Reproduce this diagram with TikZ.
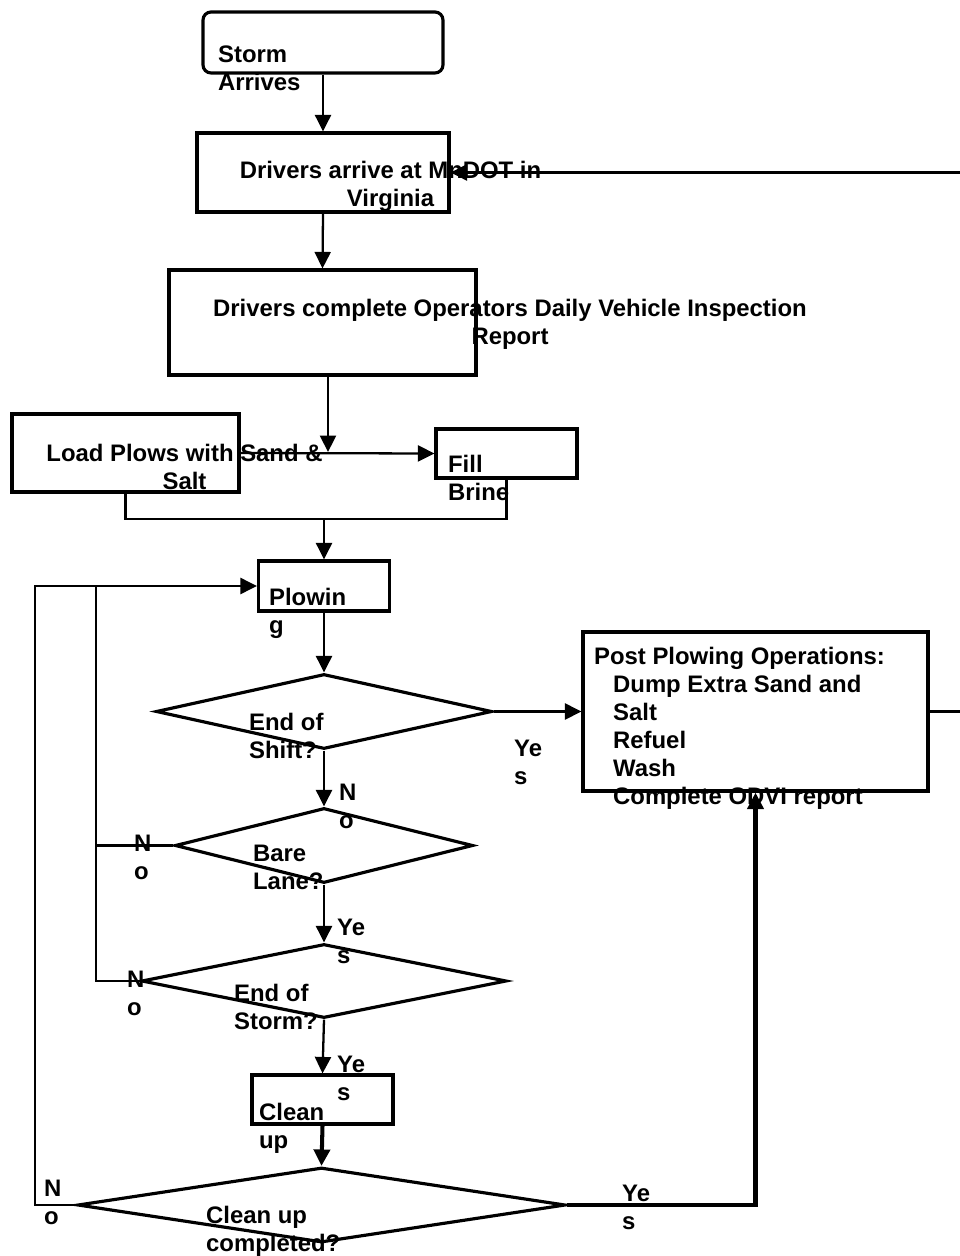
\documentclass[tikz,border=0pt]{standalone}
\usepackage{fontspec}
\setmainfont{Liberation Sans}
\usetikzlibrary{arrows.meta,shapes.geometric}
\tikzset{every picture/.style={line width=1.3pt}}
\tikzset{
  box/.style={draw, rectangle, line width=1.8pt, inner sep=0pt},
  decide/.style={draw, diamond, line width=1.8pt, inner sep=0pt},
  txt/.style={font=\fontsize{13.6}{15.9}\selectfont\bfseries, inner sep=0pt, align=left, anchor=north west},
  heavy/.style={line width=2.3pt},
}
\newcommand{\postind}{\hspace*{0.38cm}}

\begin{document}
\begin{tikzpicture}[>={Triangle[length=0.33cm,width=0.32cm]}, x=0.02cm, y=-0.02cm]
    \useasboundingbox (0,0) rectangle (959,1256);
    % process boxes
    \node[box, rounded corners=0.16cm, minimum width=4.8cm, minimum height=1.22cm] (storm) at (323,42.5) {};
    \node[box, minimum width=5.04cm, minimum height=1.58cm] (arrive) at (323,172.5) {};
    \node[box, minimum width=6.14cm, minimum height=2.1cm] (inspect) at (322.5,322.5) {};
    \node[box, minimum width=4.54cm, minimum height=1.56cm] (load) at (125.5,453) {};
    \node[box, minimum width=2.82cm, minimum height=0.98cm] (brine) at (506.5,453.5) {};
    \node[box, minimum width=2.62cm, minimum height=1.0cm] (plow) at (324,586) {};
    \node[box, minimum width=2.82cm, minimum height=0.98cm] (clean) at (322.5,1099.5) {};
    \node[box, minimum width=6.9cm, minimum height=3.18cm] (post) at (755.5,711.5) {};
    % decisions
    \node[decide, minimum width=6.72cm, minimum height=1.5cm] (shift) at (324,711.5) {};
    \node[decide, minimum width=5.96cm, minimum height=1.5cm] (bare) at (324,845.5) {};
    \node[decide, minimum width=7.3cm, minimum height=1.48cm] (endstorm) at (324,981) {};
    \node[decide, minimum width=9.76cm, minimum height=1.5cm] (done) at (321.5,1205) {};
    % texts, placed as the original prints them
    \node[txt] (stormtxt) at (217,45) {Storm\\Arrives};
    \node[txt, align=center, anchor=north] (arrivetxt) at (390.5,160) {Drivers arrive at MnDOT in\\Virginia};
    \node[txt, align=center, anchor=north] (inspecttxt) at (510,298) {Drivers complete Operators Daily Vehicle Inspection\\Report};
    \node[txt, align=center, anchor=north] (loadtxt) at (184.5,443) {Load Plows with Sand \&\\Salt};
    \node[txt] (brinetxt) at (447,454) {Fill\\Brine};
    \node[txt] (plowtxt) at (268,587) {Plowin\\g};
    \node[txt] (shifttxt) at (248,712) {End of\\Shift?};
    \node[txt] (baretxt) at (252,844) {Bare\\Lane?};
    \node[txt] (endstormtxt) at (233,983) {End of\\Storm?};
    \node[txt] (cleantxt) at (258,1102) {Clean\\up};
    \node[txt] (donetxt) at (205,1205) {Clean up\\completed?};
    \node[txt] (posttxt) at (593,646) {Post Plowing Operations:\\\postind Dump Extra Sand and\\\postind Salt\\\postind Refuel\\\postind Wash\\\postind Complete ODVI report};
    % branch labels
    \node[txt] (yesshift) at (513,739) {Ye\\s};
    \node[txt] (noshift) at (338,783) {N\\o};
    \node[txt] (nobare) at (133,834) {N\\o};
    \node[txt] (yesbare) at (336,918) {Ye\\s};
    \node[txt] (noend) at (126,970) {N\\o};
    \node[txt] (yesend) at (336,1055) {Ye\\s};
    \node[txt] (nodone) at (43,1179) {N\\o};
    \node[txt] (yesdone) at (621,1184) {Ye\\s};
    % helper points
    \coordinate (split) at (328,452);
    \coordinate (join) at (324,519);
    \coordinate (loopin) at (96,586);
    \coordinate (loopout) at (35,586);
    % main line
    \draw[->] (storm.south) -- (arrive.north);
    \draw[->] (arrive.south) -- (inspect.north);
    \draw[->] (inspect.south -| split) -- (split);
    \draw[->] (load.east) -- (brine.west);
    \draw (load.south) |- (join) -| (brine.south);
    \draw[->] (join) -- (plow.north);
    \draw[->] (plow.south) -- (shift.north);
    \draw[->] (shift.south) -- (bare.north);
    \draw[->] (bare.south) -- (endstorm.north);
    \draw[->] (endstorm.south) -- (clean.north);
    \draw[heavy, ->] (clean.south) -- (done.north);
    % yes branches to post plowing, and back to the start
    \draw[->] (shift.east) -- (post.west);
    \draw[heavy, ->] (done.east) -| (post.south);
    \draw[->] (post.east) -- ++(35,0) |- (arrive.east);
    % no loops back to plowing
    \draw[->] (bare.west) -| (loopin) -- (plow.west);
    \draw (endstorm.west) -| (loopin);
    \draw (done.west) -| (loopout) -- (loopin);
\end{tikzpicture}
\end{document}
